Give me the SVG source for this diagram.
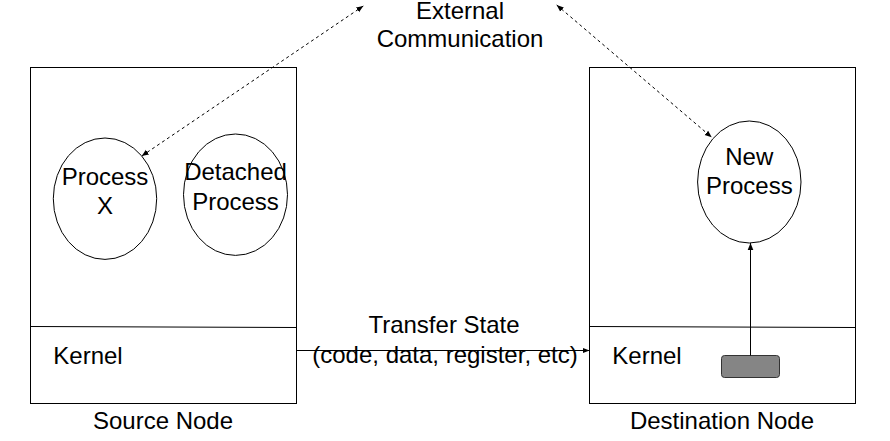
<svg xmlns="http://www.w3.org/2000/svg" width="890" height="441" viewBox="0 0 890 441">
<style>
text{font-family:"Liberation Sans",Arial,sans-serif;font-size:24px;fill:#000;text-anchor:middle}
.box{fill:#fff;stroke:#000;stroke-width:1}
.ell{fill:#fff;stroke:#000;stroke-width:1}
.dash{fill:none;stroke:#000;stroke-width:1;stroke-dasharray:3 3}
.line{fill:none;stroke:#000;stroke-width:1}
</style>
<defs>
<marker id="ah" viewBox="0 0 10 10" refX="10" refY="5" markerWidth="7" markerHeight="7" orient="auto-start-reverse" markerUnits="userSpaceOnUse">
<path d="M0,1 L10,5 L0,9 Z" fill="#000"/>
</marker>
</defs>
<rect width="890" height="441" fill="#fff"/>
<g id="source-node">
<rect class="box" x="30.5" y="67.5" width="266" height="336"/>
<line class="line" x1="30.5" y1="326.5" x2="296.5" y2="327.5"/>
<text x="88" y="364">Kernel</text>
<text x="163" y="429">Source Node</text>
</g>
<g id="process-x">
<ellipse class="ell" cx="105" cy="198.7" rx="51.7" ry="60.7"/>
<text x="105" y="185">Process</text>
<text x="105" y="214">X</text>
</g>
<g id="detached-process">
<ellipse class="ell" cx="235.5" cy="194.7" rx="52" ry="60.7"/>
<text x="235.5" y="180">Detached</text>
<text x="235.5" y="210">Process</text>
</g>
<g id="destination-node">
<rect class="box" x="589.5" y="67.5" width="266" height="336"/>
<line class="line" x1="589.5" y1="326.5" x2="855.5" y2="327.5"/>
<text x="647" y="364">Kernel</text>
<text x="722" y="429">Destination Node</text>
</g>
<g id="new-process">
<ellipse class="ell" cx="749.3" cy="182" rx="51.7" ry="61"/>
<text x="749.3" y="165">New</text>
<text x="749.3" y="194">Process</text>
</g>
<g id="kernel-block">
<rect x="721.5" y="355.5" width="58" height="22" rx="3" ry="3" fill="#858585" stroke="#333" stroke-width="1"/>
</g>
<g id="external-communication">
<text x="460" y="19">External</text>
<text x="460" y="47">Communication</text>
</g>
<g id="transfer-label">
<text x="444" y="333">Transfer State</text>
<text x="445" y="363">(code, data, register, etc)</text>
</g>
<g id="connectors">
<line class="dash" x1="363.3" y1="6" x2="141.7" y2="156" marker-start="url(#ah)" marker-end="url(#ah)"/>
<line class="dash" x1="556.7" y1="5" x2="711.7" y2="137.3" marker-start="url(#ah)" marker-end="url(#ah)"/>
<line class="line" x1="296.5" y1="350.5" x2="589.5" y2="350.5" marker-end="url(#ah)"/>
<line class="line" x1="750.5" y1="355.5" x2="750.5" y2="243" marker-end="url(#ah)"/>
</g>
</svg>
